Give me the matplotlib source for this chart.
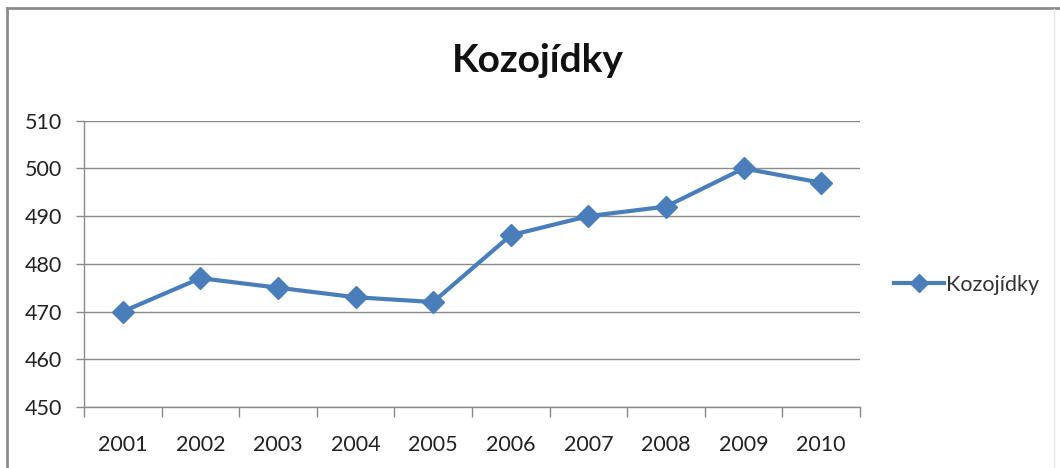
import matplotlib
matplotlib.use("Agg")
import matplotlib.pyplot as plt
from matplotlib.lines import Line2D

years = ["2001", "2002", "2003", "2004", "2005", "2006", "2007", "2008", "2009", "2010"]
values = [470, 477, 475, 473, 472, 486, 490, 492, 500, 497]
series_name = "Kozojídky"
title = "Kozojídky"
y_ticks = [450, 460, 470, 480, 490, 500, 510]

plt.rcParams['font.family'] = ['Lato', 'DejaVu Sans']

W, H = 1060, 468
fig = plt.figure(figsize=(W / 100, H / 100), dpi=100)
fig.patch.set_facecolor("white")

ax = fig.add_axes([84 / W, 1 - 407 / H, (860 - 84) / W, (407 - 120.7) / H])

blue = "#4A7EBB"
x = list(range(len(years)))
ax.plot(x, values, color=blue, lw=3.0, marker="D", markersize=11,
        markerfacecolor=blue, markeredgecolor=blue, label=series_name,
        solid_joinstyle="round", zorder=3)

ax.set_xlim(-0.5, len(years) - 0.5)
ax.set_ylim(450, 510)
ax.set_yticks(y_ticks)
ax.set_yticklabels([str(v) for v in y_ticks], fontsize=15.5, color="#222222")
ax.yaxis.grid(True, color="#8a8a8a", lw=1.0)
ax.set_axisbelow(True)

# Category labels centered, tick marks at boundaries
ax.set_xticks(x)
ax.set_xticklabels(years, fontsize=15.5, color="#222222")
ax.tick_params(axis="x", which="major", length=0, pad=20)
ax.set_xticks([i - 0.5 for i in range(len(years) + 1)], minor=True)
ax.tick_params(axis="x", which="minor", length=7, color="#8a8a8a", width=1)
ax.tick_params(axis="y", length=6, color="#8a8a8a", width=1, pad=10)

for s in ["top", "right"]:
    ax.spines[s].set_visible(False)
for s in ["left", "bottom"]:
    ax.spines[s].set_color("#8a8a8a")
    ax.spines[s].set_linewidth(1.0)

fig.text(538 / W, 1 - 61 / H, title, fontsize=28, fontweight="bold",
         ha="center", va="center", color="#111111")

handle = Line2D([], [], color=blue, lw=3.0, marker="D", markersize=9,
                markerfacecolor=blue, markeredgecolor=blue)
fig.legend([handle], [series_name], loc="center left",
           bbox_to_anchor=(894 / W, 1 - 285 / H), frameon=False,
           borderpad=0, borderaxespad=0, handlelength=2.3, handletextpad=0.1,
           prop={"size": 15.5}, labelcolor="#333333")

# Outer frame (top and left visible)
fig.add_artist(Line2D([7 / W, 1.0], [1 - 8 / H, 1 - 8 / H], color="#8c8c8c", lw=2,
                      transform=fig.transFigure))
fig.add_artist(Line2D([7 / W, 7 / W], [0, 1 - 8 / H], color="#8c8c8c", lw=2,
                      transform=fig.transFigure))
fig.add_artist(Line2D([1054 / W, 1054 / W], [0, 1 - 9 / H], color="#e6e6e6", lw=1,
                      transform=fig.transFigure))

fig.savefig("out.png", dpi=100, facecolor="white")
